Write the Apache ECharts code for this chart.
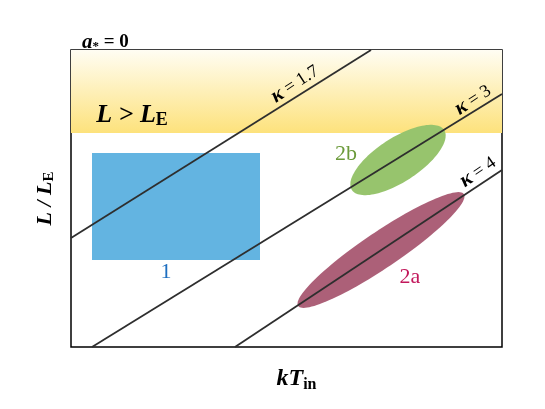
<!DOCTYPE html>
<html><head><meta charset="utf-8">
<script src="https://cdn.jsdelivr.net/npm/echarts@6/dist/echarts.min.js"></script>
<style>html,body{margin:0;padding:0;background:#fff}#c{width:545px;height:409px}</style>
</head><body><div id="c"></div>
<script>
// Data units (arbitrary, schematic diagram)
var xRange = [0, 431];
var yRange = [0, 297];
// L > L_E band (y range)
var bandY = [214, 297];
// Region 1 rectangle: [x0, y0, x1, y1]
var region1 = [21, 87, 189, 194];
// Ellipses: [cx, cy, semiMajor, semiMinor, angleDeg]
var region2b = [327, 187, 55, 22, 33];
var region2a = [310, 97, 100, 18, 34];
// kappa lines: endpoints
var kappa17 = [[0, 109], [300, 297]];
var kappa3 = [[21, 0], [431, 253]];
var kappa4 = [[164, 0], [431, 177]];
// label positions [x, y, value text, rotate]
var kappaLabels = [[224, 263, ' = 1.7', 33], [402, 247, ' = 3', 33], [407, 175, ' = 4', 34]];
var regionLabels = [[275, 193, '2b', '#6b9a3a'], [339, 70, '2a', '#c2185b'], [95, 75, '1', '#1e6fc0']];
var bandLabel = [61, 232];

var serif = 'Liberation Serif';
var chart = echarts.init(document.getElementById('c'));

function ellipseSeries(e, color, z) {
  return {
    type: 'custom', z: z, silent: true,
    data: [e],
    renderItem: function (params, api) {
      var cx = api.value(0), cy = api.value(1), a = api.value(2), b = api.value(3), ang = api.value(4) * Math.PI / 180;
      var pts = [];
      for (var i = 0; i < 120; i++) {
        var t = i / 120 * Math.PI * 2;
        var x = a * Math.cos(t), y = b * Math.sin(t);
        pts.push(api.coord([cx + x * Math.cos(ang) - y * Math.sin(ang), cy + x * Math.sin(ang) + y * Math.cos(ang)]));
      }
      return { type: 'polygon', shape: { points: pts }, style: { fill: color } };
    }
  };
}
function lineSeries(d) {
  return { type: 'line', data: d, symbol: 'none', z: 10, silent: true,
    lineStyle: { color: '#2e2e2e', width: 1.8 } };
}

var option = {
  animation: false,
  title: {
    text: '{a|a}{s|*}{b| = 0}', left: 77, top: 27,
    textStyle: { fontSize: 19, fontFamily: serif, rich: {
      a: { fontFamily: serif, fontSize: 21, fontWeight: 'bold', fontStyle: 'italic', color: '#000' },
      s: { fontFamily: serif, fontSize: 13, fontWeight: 'bold', color: '#000', verticalAlign: 'bottom', padding: [8, 0, 0, 0] },
      b: { fontFamily: serif, fontSize: 19, fontWeight: 'bold', color: '#000' }
    } }
  },
  grid: { left: 71, top: 50, width: 431, height: 297, show: true, borderColor: '#000', borderWidth: 1.5, backgroundColor: 'transparent' },
  xAxis: {
    type: 'value', min: xRange[0], max: xRange[1],
    axisLine: { show: false }, axisTick: { show: false }, axisLabel: { show: false }, splitLine: { show: false },
    name: '{i|kT}{s|in}', nameLocation: 'middle', nameGap: 18,
    nameTextStyle: { padding: [0, 0, 0, 20], rich: {
      i: { fontFamily: serif, fontSize: 24, fontWeight: 'bold', fontStyle: 'italic', color: '#000' },
      s: { fontFamily: serif, fontSize: 16, fontWeight: 'bold', color: '#000', verticalAlign: 'bottom', padding: [12, 0, 0, 0] }
    } }
  },
  yAxis: {
    type: 'value', min: yRange[0], max: yRange[1],
    axisLine: { show: false }, axisTick: { show: false }, axisLabel: { show: false }, splitLine: { show: false },
    name: '{i|L / L}{s|E}', nameLocation: 'middle', nameGap: 14, nameRotate: 90,
    nameTextStyle: { rich: {
      i: { fontFamily: serif, fontSize: 22, fontWeight: 'bold', fontStyle: 'italic', color: '#000' },
      s: { fontFamily: serif, fontSize: 15, fontWeight: 'bold', color: '#000', verticalAlign: 'bottom', padding: [9, 0, 0, 0] }
    } }
  },
  series: [
    { type: 'line', data: [], z: 1, silent: true,
      markArea: { silent: true, itemStyle: {
          color: { type: 'linear', x: 0, y: 0, x2: 0, y2: 1,
            colorStops: [{ offset: 0, color: '#fffdf3' }, { offset: 1, color: '#fde27c' }] } },
        data: [[{ yAxis: bandY[0] }, { yAxis: bandY[1] }]] } },
    { type: 'custom', z: 2, silent: true, data: [region1],
      renderItem: function (params, api) {
        var p0 = api.coord([api.value(0), api.value(3)]), p1 = api.coord([api.value(2), api.value(1)]);
        return { type: 'rect', shape: { x: p0[0], y: p0[1], width: p1[0] - p0[0], height: p1[1] - p0[1] }, style: { fill: '#63b4e1' } };
      } },
    ellipseSeries(region2b, '#97c46d', 3),
    ellipseSeries(region2a, '#ac6078', 3),
    lineSeries(kappa17), lineSeries(kappa3), lineSeries(kappa4),
    { type: 'scatter', z: 20, silent: true, symbolSize: 0, itemStyle: { opacity: 1 },
      data: kappaLabels.map(function (k) {
        return { value: [k[0], k[1]], label: { show: true, position: 'inside', formatter: '{k|κ}{t|' + k[2] + '}', rotate: k[3],
          opacity: 1, rich: {
            k: { fontFamily: serif, fontSize: 21, fontWeight: 'bold', fontStyle: 'italic', color: '#000' },
            t: { fontFamily: serif, fontSize: 18, color: '#000' }
          } } };
      }) },
    { type: 'scatter', z: 20, silent: true, symbolSize: 0, itemStyle: { opacity: 1 },
      data: regionLabels.map(function (k) {
        return { value: [k[0], k[1]], label: { show: true, position: 'inside', formatter: k[2], opacity: 1,
          fontFamily: serif, fontSize: 22, color: k[3] } };
      }) },
    { type: 'scatter', z: 20, silent: true, symbolSize: 0, itemStyle: { opacity: 1 },
      data: [{ value: bandLabel, label: { show: true, position: 'inside', formatter: '{i|L > L}{s|E}', opacity: 1,
        rich: {
          i: { fontFamily: serif, fontSize: 26, fontWeight: 'bold', fontStyle: 'italic', color: '#000' },
          s: { fontFamily: serif, fontSize: 18, fontWeight: 'bold', color: '#000', verticalAlign: 'bottom', padding: [11, 0, 0, 0] }
        } } }] }
  ]
};
chart.setOption(option);
</script></body></html>
